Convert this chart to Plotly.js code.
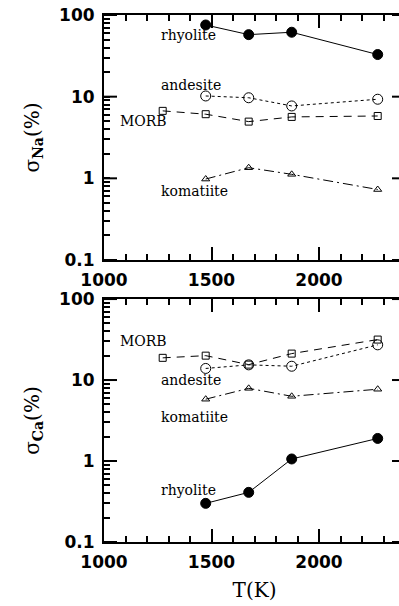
<!DOCTYPE html>
<html>
<head>
<meta charset="utf-8">
<script src="https://cdn.plot.ly/plotly-3.0.1.min.js"></script>
<style>
html, body { margin:0; padding:0; overflow:hidden; background:#fff; }
#plot { width:440px; height:606px; }
</style>
</head>
<body>
<div id="plot"></div>
<script>
// Temperatures (K)
const T4 = [1473, 1673, 1873, 2273];
const T5 = [1273, 1473, 1673, 1873, 2273];

// Top panel: sigma_Na (%)
const naRhyolite  = [75.5, 57.5, 61.5, 32.8];
const naAndesite  = [10.2, 9.7, 7.7, 9.3];
const naMORB      = [6.7, 6.1, 4.95, 5.65, 5.8];
const naKomatiite = [0.98, 1.35, 1.12, 0.73];

// Bottom panel: sigma_Ca (%)
const caRhyolite  = [0.30, 0.41, 1.06, 1.9];
const caAndesite  = [13.9, 15.4, 14.8, 27.2];
const caMORB      = [18.8, 20.0, 15.5, 21.2, 31.6];
const caKomatiite = [5.8, 7.9, 6.3, 7.7];

const yTickVals = [0.1, 1, 10, 100];
const yTickText = ['0.1', '1', '10', '100'];
const yMinorVals = [0.2,0.3,0.4,0.5,0.6,0.7,0.8,0.9, 2,3,4,5,6,7,8,9, 20,30,40,50,60,70,80,90];
const xTickVals = [1000, 1500, 2000];

const labelFont = {family: 'DejaVu Serif', size: 14, color: '#000'};
const tickFont = {family: 'DejaVu Sans', size: 17, color: '#000', weight: 'bold'};

function trio(x, y, xa, ya, dash, symbol, size) {
  return {
    x: x, y: y, xaxis: xa, yaxis: ya, type: 'scatter', mode: 'lines+markers',
    line: {color: '#000', width: 1, dash: dash},
    marker: {symbol: symbol, size: size, color: '#000', line: {color: '#000', width: 1}},
    showlegend: false, hoverinfo: 'skip'
  };
}

const data = [
  trio(T4, naRhyolite, 'x', 'y', 'solid', 'circle', 10),
  trio(T4, naAndesite, 'x', 'y', 'dot', 'circle-open', 10),
  trio(T5, naMORB, 'x', 'y', '8px,6px', 'square-open', 7),
  trio(T4, naKomatiite, 'x', 'y', '10px,4px,2px,4px', 'triangle-up-open', 7),
  trio(T4, caRhyolite, 'x2', 'y2', 'solid', 'circle', 10),
  trio(T4, caAndesite, 'x2', 'y2', 'dot', 'circle-open', 10),
  trio(T5, caMORB, 'x2', 'y2', '8px,6px', 'square-open', 7),
  trio(T4, caKomatiite, 'x2', 'y2', '10px,4px,2px,4px', 'triangle-up-open', 7)
];

function xaxis(anchor, withTitle) {
  const a = {
    anchor: anchor, range: [1000, 2400], showgrid: false, zeroline: false,
    showline: true, linecolor: '#000', linewidth: 2, mirror: 'allticks',
    ticks: 'inside', ticklen: 13, tickwidth: 2, tickcolor: '#000',
    tickvals: xTickVals, ticktext: xTickVals.map(String), tickfont: tickFont,
    ticklabelstandoff: 4,
    minor: {dtick: 100, tick0: 1000, ticks: 'inside', ticklen: 6, tickwidth: 2, tickcolor: '#000', showgrid: false}
  };
  if (withTitle) {
    a.title = {text: 'T(K)', font: {family: 'DejaVu Serif', size: 20, color: '#000'}, standoff: 12};
  }
  return a;
}

// all y ticks (major + minor) as short ticks; major ones lengthened below
const yAllVals = yTickVals.concat(yMinorVals);
const yAllText = yTickText.concat(yMinorVals.map(() => ''));

function yaxis(anchor, domain, title) {
  return {
    anchor: anchor, domain: domain, type: 'log', range: [-1, 2],
    showgrid: false, zeroline: false,
    showline: true, linecolor: '#000', linewidth: 2, mirror: 'allticks',
    ticks: 'inside', ticklen: 6, tickwidth: 2, tickcolor: '#000',
    tickmode: 'array', tickvals: yAllVals, ticktext: yAllText, tickfont: tickFont,
    ticklabelstandoff: 4,
    title: {text: title, font: {family: 'DejaVu Serif', size: 20, color: '#000'}, standoff: 14}
  };
}

// long major tick decorations on the left and right frame
const shapes = [];
[['x', 'y'], ['x2', 'y2']].forEach(([xa, ya]) => {
  yTickVals.forEach(v => {
    [[0, 0, 13], [1, -13, 0]].forEach(([anc, a0, a1]) => {
      shapes.push({type: 'line', xref: xa + ' domain', yref: ya, xsizemode: 'pixel',
                   xanchor: anc, x0: a0, x1: a1, y0: v, y1: v,
                   line: {color: '#000', width: 2}});
    });
  });
});

function ann(text, x, y, xref, yref) {
  return {text: text, x: x, y: y, xref: xref, yref: yref, xanchor: 'left', yanchor: 'middle',
          showarrow: false, font: labelFont};
}

const layout = {
  width: 440, height: 606,
  margin: {l: 104, r: 35, t: 15, b: 64},
  paper_bgcolor: '#fff', plot_bgcolor: '#fff',
  xaxis: xaxis('y', false),
  yaxis: yaxis('x', [0.5351, 1], 'σ<sub><b>Na</b></sub>(%)'),
  xaxis2: xaxis('y2', true),
  yaxis2: yaxis('x2', [0, 0.461], 'σ<sub><b>Ca</b></sub>(%)'),
  shapes: shapes,
  annotations: [
    ann('rhyolite', 1254, Math.log10(57), 'x', 'y'),
    ann('andesite', 1254, Math.log10(14), 'x', 'y'),
    ann('MORB', 1063, Math.log10(5.0), 'x', 'y'),
    ann('komatiite', 1254, Math.log10(0.70), 'x', 'y'),
    ann('MORB', 1063, Math.log10(30), 'x2', 'y2'),
    ann('andesite', 1254, Math.log10(10), 'x2', 'y2'),
    ann('komatiite', 1254, Math.log10(3.5), 'x2', 'y2'),
    ann('rhyolite', 1254, Math.log10(0.44), 'x2', 'y2')
  ]
};

Plotly.newPlot('plot', data, layout, {displayModeBar: false, staticPlot: true});
</script>
</body>
</html>
